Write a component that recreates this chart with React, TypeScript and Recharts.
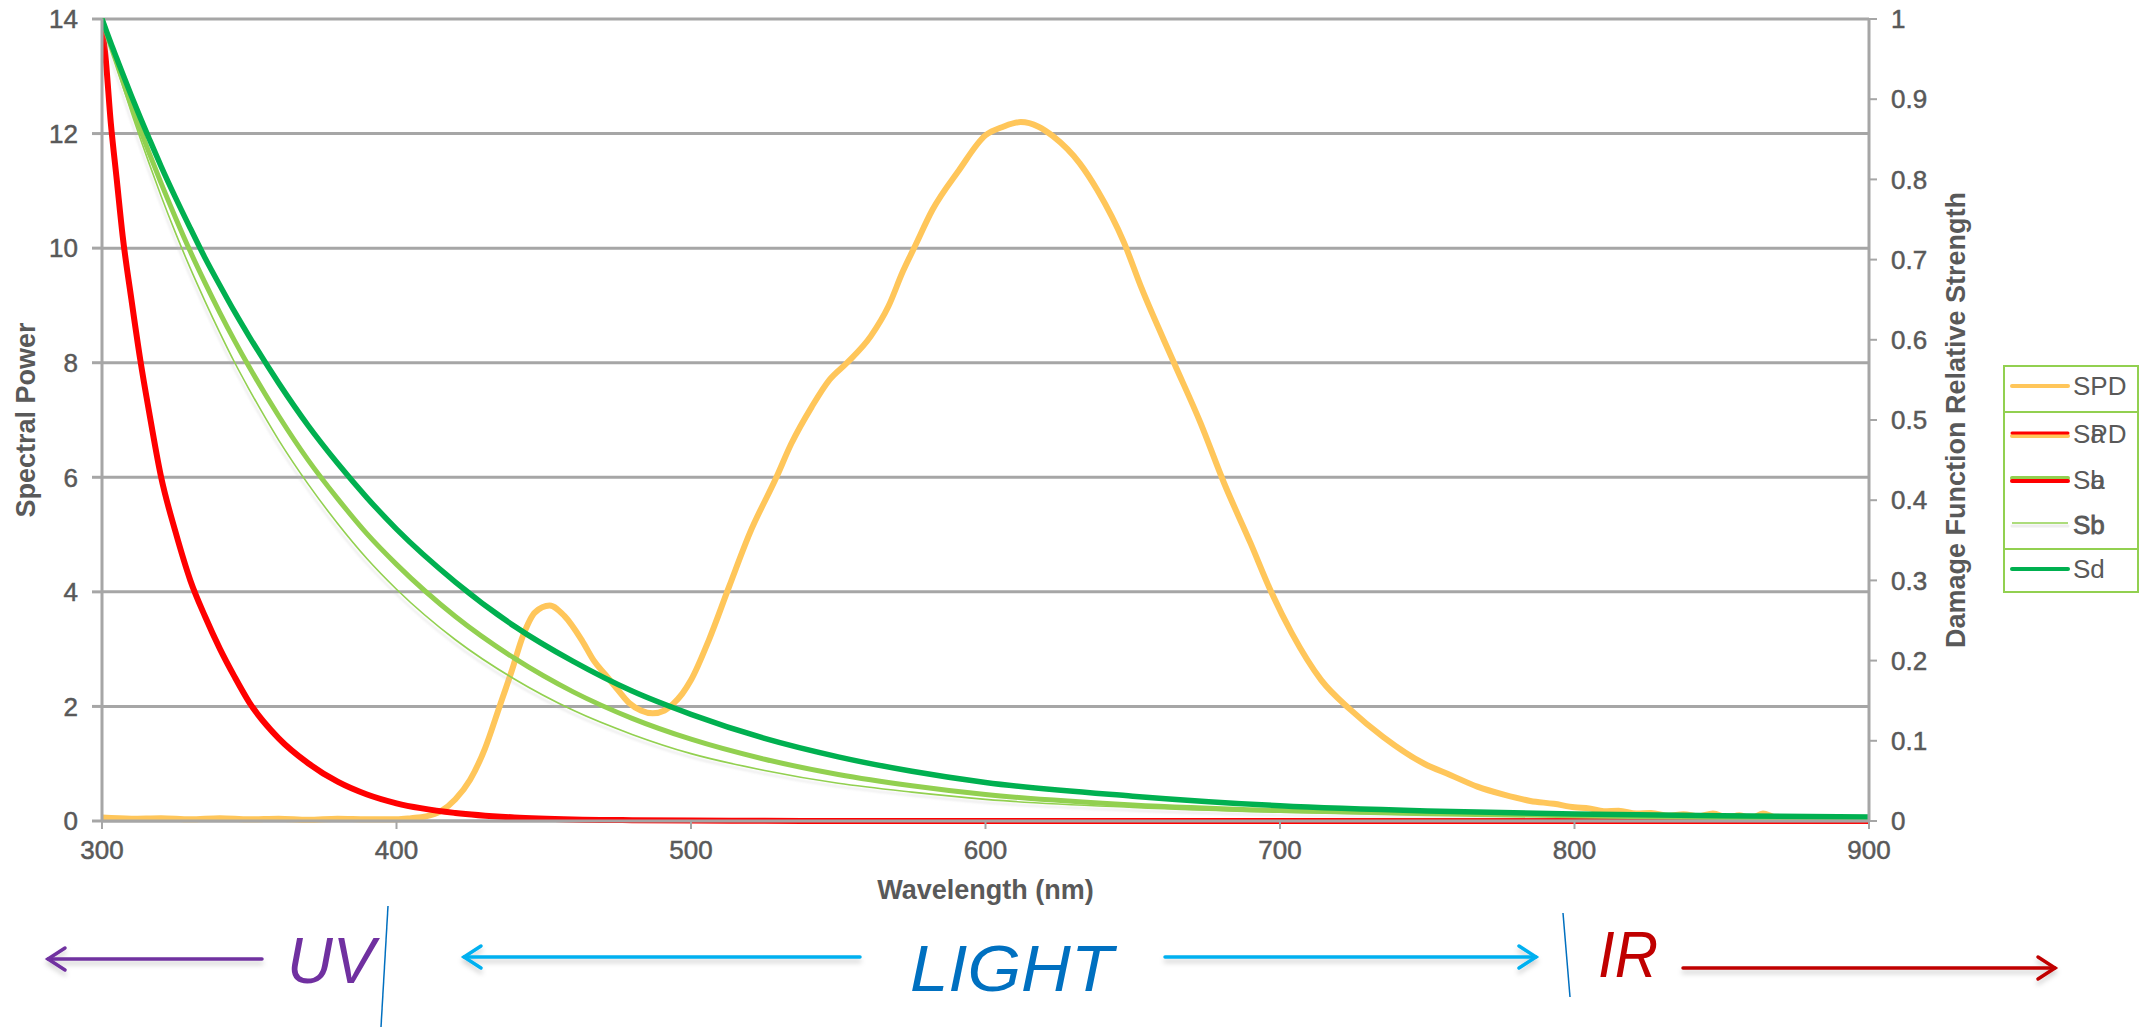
import React from 'react';
import { LineChart, Line, XAxis, YAxis, CartesianGrid, Legend, Label } from 'recharts';

const FONT = '"Liberation Sans", Arial, sans-serif';
const GREY_TEXT = '#595959';
const AXIS_GREY = '#a6a6a6';

// SPD trace (nm / spectral power)
const spdWavelength = [
  300, 310, 320, 330, 340, 350, 360, 370, 380, 390, 400,
  405, 410, 415, 420, 425, 430, 435,
  439, 443, 447, 452, 457, 463, 467, 471, 475, 479,
  483, 487, 491, 494, 497, 500,
  506, 513, 520, 529, 534, 541, 547, 553,
  561, 567, 572, 576, 582, 591, 600,
  606, 612, 618, 623, 632, 638, 647, 653,
  664, 673, 681, 690, 697, 704, 714, 724,
  735, 749, 758, 767, 776, 785, 793, 800,
  805, 810, 815, 821, 826, 832, 837, 842,
  847, 852, 856, 860, 864, 867, 870,
];
const spdPower = [
  0.06, 0.04, 0.05, 0.03, 0.05, 0.03, 0.04, 0.02, 0.04, 0.03, 0.03,
  0.05, 0.08, 0.17, 0.38, 0.72, 1.26, 2.0,
  2.6, 3.24, 3.64, 3.76, 3.58, 3.15, 2.8, 2.55, 2.3, 2.06,
  1.93, 1.88, 1.93, 2.05, 2.22, 2.46,
  3.15, 4.1, 5.03, 6.0, 6.58, 7.23, 7.7, 8.0,
  8.46, 8.98, 9.6, 10.03, 10.67, 11.36, 11.97,
  12.12, 12.2, 12.12, 11.95, 11.48, 11.01, 10.1, 9.3,
  8.0, 6.95, 5.9, 4.85, 4.0, 3.28, 2.46, 1.94,
  1.47, 1.0, 0.8, 0.6, 0.46, 0.35, 0.3, 0.24,
  0.22, 0.17, 0.18, 0.13, 0.14, 0.09, 0.12, 0.08,
  0.13, 0.06, 0.1, 0.05, 0.13, 0.08, 0.02,
];

// damage functions (relative strength, right axis)
const damageWavelength = [
  300, 301, 303, 305, 307, 310, 313, 316, 320, 325, 330, 335, 340, 345, 350,
  360, 370, 380, 390, 400, 420, 440, 460, 480, 500, 525, 550, 575, 600,
  650, 700, 750, 800, 850, 900,
];
const saStrength = [
  0.986, 0.96, 0.87, 0.8, 0.73, 0.65, 0.575, 0.51, 0.43, 0.36, 0.3, 0.255, 0.215, 0.18, 0.148,
  0.103, 0.072, 0.049, 0.033, 0.022, 0.01, 0.0045, 0.002, 0.001, 0.0005, 0.0002, 0.0001, 0, 0,
  0, 0, 0, 0, 0, 0,
];
const sbStrength = [
  1, 0.989, 0.966, 0.945, 0.923, 0.892, 0.862, 0.833, 0.796, 0.752, 0.71, 0.671, 0.634, 0.599, 0.566,
  0.505, 0.45, 0.402, 0.358, 0.32, 0.255, 0.203, 0.161, 0.128, 0.102, 0.077, 0.058, 0.044, 0.033,
  0.02, 0.013, 0.009, 0.0065, 0.0045, 0.0035,
];
// thin green line (legend shows it as a second "Sb")
const scStrength = [
  1, 0.988, 0.963, 0.94, 0.917, 0.883, 0.851, 0.82, 0.78, 0.733, 0.689, 0.648, 0.609, 0.572, 0.538,
  0.475, 0.42, 0.371, 0.327, 0.289, 0.226, 0.177, 0.138, 0.108, 0.084, 0.063, 0.047, 0.036, 0.027,
  0.017, 0.011, 0.0078, 0.0056, 0.004, 0.003,
];
const sdStrength = [
  1, 0.99, 0.97, 0.951, 0.932, 0.904, 0.877, 0.851, 0.817, 0.777, 0.739, 0.702, 0.668, 0.635, 0.604,
  0.546, 0.493, 0.446, 0.403, 0.364, 0.298, 0.243, 0.199, 0.162, 0.133, 0.103, 0.08, 0.062, 0.048,
  0.031, 0.019, 0.0125, 0.0088, 0.0065, 0.005,
];

const xTicks = [300, 400, 500, 600, 700, 800, 900];
const powerTicks = [0, 2, 4, 6, 8, 10, 12, 14];
const strengthTicks = [0, 0.1, 0.2, 0.3, 0.4, 0.5, 0.6, 0.7, 0.8, 0.9, 1];

const spdData = spdWavelength.map((wl, i) => ({ wl, value: spdPower[i] }));
const damageData = damageWavelength.map((wl, i) => ({
  wl,
  sa: saStrength[i],
  sb: sbStrength[i],
  sc: scStrength[i],
  sd: sdStrength[i],
}));

const COLORS = {
  spd: '#FFC65A',
  sa: '#FF0000',
  sb: '#92D050',
  sd: '#00B050',
};

const tickStyle = {
  fill: GREY_TEXT,
  stroke: GREY_TEXT,
  strokeWidth: 0.5,
  fontSize: 26,
  fontFamily: FONT,
};
const titleStyle = { fill: GREY_TEXT, fontSize: 27, fontWeight: 700, fontFamily: FONT, textAnchor: 'middle' as const };

// Excel's legend came out garbled (labels printed on top of each other);
// per-glyph dx keeps that look inside a single text element
function LegendBox() {
  const txt = { fontSize: 26, fontFamily: FONT, fill: GREY_TEXT };
  return (
    <svg width={136} height={230} style={{ display: 'block' }}>
      <rect x={1} y={1} width={134} height={226} fill="#fff" stroke={COLORS.sb} strokeWidth={2} />
      <line x1={1} x2={135} y1={47} y2={47} stroke={COLORS.sb} strokeWidth={2} />
      <line x1={1} x2={135} y1={184} y2={184} stroke={COLORS.sb} strokeWidth={2} />

      <line x1={9} x2={65} y1={21} y2={21} stroke={COLORS.spd} strokeWidth={4} strokeLinecap="round" />
      <text x={70} y={30} {...txt}>SPD</text>

      <line x1={9} x2={65} y1={71} y2={71} stroke={COLORS.spd} strokeWidth={4} strokeLinecap="round" />
      <line x1={9} x2={65} y1={68} y2={68} stroke={COLORS.sa} strokeWidth={3} strokeLinecap="round" />
      <text x={70} y={78} dx="0 0 -14.5 0" {...txt}>SaPD</text>

      <line x1={9} x2={65} y1={113} y2={113} stroke={COLORS.sb} strokeWidth={4} strokeLinecap="round" />
      <line x1={9} x2={65} y1={116} y2={116} stroke={COLORS.sa} strokeWidth={4} strokeLinecap="round" />
      <text x={70} y={124} dx="0 0 -14.5" {...txt}>Sba</text>

      <line x1={9} x2={65} y1={161} y2={161} stroke="#eeeeee" strokeWidth={3} strokeLinecap="round" />
      <line x1={9} x2={65} y1={158} y2={158} stroke={COLORS.sb} strokeWidth={1.5} />
      <text x={70} y={169} {...txt} stroke={GREY_TEXT} strokeWidth={0.8}>Sb</text>

      <line x1={9} x2={65} y1={204} y2={204} stroke={COLORS.sd} strokeWidth={4} strokeLinecap="round" />
      <text x={70} y={213} {...txt}>Sd</text>
    </svg>
  );
}

function Arrow({ from, to, y, color }: { from: number; to: number; y: number; color: string }) {
  const dir = to > from ? 1 : -1;
  return (
    <g stroke={color} strokeWidth={3.5} fill="none" filter="url(#softShadow)" strokeLinecap="round">
      <line x1={from} x2={to} y1={y} y2={y} />
      <polyline points={`${to - dir * 17},${y - 11} ${to},${y} ${to - dir * 17},${y + 11}`} />
    </g>
  );
}

function SpectrumBands() {
  const italic = { fontFamily: FONT, fontStyle: 'italic' as const, fontSize: 64 };
  return (
    <svg
      width={2141}
      height={1028}
      style={{ position: 'absolute', left: 0, top: 0, pointerEvents: 'none' }}
    >
      <defs>
        <filter id="softShadow" x="-5%" y="-50%" width="110%" height="250%">
          <feDropShadow dx={0} dy={4} stdDeviation={2.5} floodColor="#000" floodOpacity={0.18} />
        </filter>
        <filter id="thinShadow" x="-5%" y="-5%" width="110%" height="110%">
          <feDropShadow dx={-2} dy={3} stdDeviation={1} floodColor="#bbb" floodOpacity={0.35} />
        </filter>
      </defs>
      <Arrow from={262} to={48} y={959} color="#7030A0" />
      <text x={287} y={983} fill="#7030A0" textLength={88} lengthAdjust="spacingAndGlyphs" {...italic}>UV</text>
      <line x1={388} y1={906} x2={381} y2={1027} stroke="#0070C0" strokeWidth={1.5} />

      <Arrow from={860} to={464} y={957} color="#00B0F0" />
      <text x={910} y={991} fill="#0070C0" textLength={203} lengthAdjust="spacingAndGlyphs" {...italic}>LIGHT</text>
      <Arrow from={1165} to={1536} y={957} color="#00B0F0" />
      <line x1={1563} y1={913} x2={1570} y2={997} stroke="#0070C0" strokeWidth={1.5} />

      <text x={1598} y={977} fill="#C00000" textLength={60} lengthAdjust="spacingAndGlyphs" {...italic}>IR</text>
      <Arrow from={1683} to={2055} y={968} color="#C00000" />
    </svg>
  );
}

export default function App() {
  return (
    <div style={{ position: 'absolute', left: 0, top: 0, width: 2141, height: 1028, background: '#fff' }}>
      <SpectrumBands />
      <LineChart
        width={2141}
        height={1028}
        margin={{ top: 19, right: 172, bottom: 127, left: 0 }}
      >
        <CartesianGrid yAxisId="left" vertical={false} stroke={AXIS_GREY} strokeWidth={3} />
        <XAxis
          dataKey="wl"
          type="number"
          domain={[300, 900]}
          ticks={xTicks}
          allowDataOverflow
          height={80}
          axisLine={{ stroke: AXIS_GREY, strokeWidth: 3 }}
          tickLine={{ stroke: AXIS_GREY, strokeWidth: 2 }}
          tickSize={8}
          tickMargin={12}
          tick={tickStyle}
        >
          <Label value="Wavelength (nm)" position="insideBottom" offset={2} style={titleStyle} />
        </XAxis>
        <YAxis
          yAxisId="left"
          orientation="left"
          domain={[0, 14]}
          ticks={powerTicks}
          width={102}
          axisLine={{ stroke: AXIS_GREY, strokeWidth: 3 }}
          tickLine={{ stroke: AXIS_GREY, strokeWidth: 3 }}
          tickSize={10}
          tickMargin={14}
          tick={tickStyle}
        >
          <Label value="Spectral Power" angle={-90} position="insideLeft" offset={25} style={titleStyle} />
        </YAxis>
        <YAxis
          yAxisId="right"
          orientation="right"
          domain={[0, 1]}
          ticks={strengthTicks}
          width={100}
          axisLine={{ stroke: AXIS_GREY, strokeWidth: 3 }}
          tickLine={{ stroke: AXIS_GREY, strokeWidth: 2 }}
          tickSize={8}
          tickMargin={14}
          tick={tickStyle}
          tickFormatter={(v: number) => String(Math.round(v * 10) / 10)}
        >
          <Label
            value="Damage Function Relative Strength"
            angle={-90}
            position="insideRight"
            offset={14}
            style={titleStyle}
          />
        </YAxis>
        <Legend
          layout="vertical"
          align="center"
          verticalAlign="middle"
          content={() => <LegendBox />}
          wrapperStyle={{ left: 2003, top: 365, width: 136, height: 230 }}
        />
        <Line
          data={spdData}
          dataKey="value"
          name="SPD"
          yAxisId="left"
          type="monotone"
          stroke={COLORS.spd}
          strokeWidth={6}
          dot={false}
          isAnimationActive={false}
        />
        <Line
          data={damageData}
          dataKey="sa"
          name="Sa"
          yAxisId="right"
          type="monotone"
          stroke={COLORS.sa}
          strokeWidth={6}
          dot={false}
          isAnimationActive={false}
        />
        <Line
          data={damageData}
          dataKey="sb"
          name="Sb"
          yAxisId="right"
          type="monotone"
          stroke={COLORS.sb}
          strokeWidth={5}
          dot={false}
          isAnimationActive={false}
        />
        <Line
          data={damageData}
          dataKey="sc"
          name="Sb"
          yAxisId="right"
          type="monotone"
          stroke={COLORS.sb}
          strokeWidth={1.6}
          filter="url(#thinShadow)"
          dot={false}
          isAnimationActive={false}
        />
        <Line
          data={damageData}
          dataKey="sd"
          name="Sd"
          yAxisId="right"
          type="monotone"
          stroke={COLORS.sd}
          strokeWidth={5.5}
          dot={false}
          isAnimationActive={false}
        />
      </LineChart>
    </div>
  );
}
